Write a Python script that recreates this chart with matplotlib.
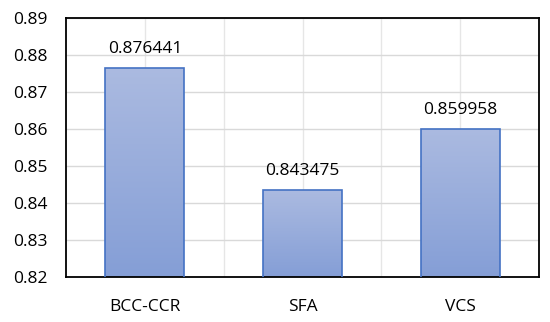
import numpy as np
import matplotlib.pyplot as plt
from matplotlib.colors import LinearSegmentedColormap

categories = ['BCC-CCR', 'SFA', 'VCS']
values = [0.876441, 0.843475, 0.859958]
yticks = [0.82, 0.83, 0.84, 0.85, 0.86, 0.87, 0.88, 0.89]

plt.rcParams['font.family'] = ['Open Sans', 'DejaVu Sans']

fig = plt.figure(figsize=(5.5, 3.22), dpi=100)
ax = fig.add_axes([66 / 550, 1 - 277 / 322, 473 / 550, 259 / 322])

x = np.arange(len(categories))
ax.set_xlim(-0.5, len(categories) - 0.5)
ax.set_ylim(yticks[0], yticks[-1])

cmap = LinearSegmentedColormap.from_list('g', [(0.52, 0.62, 0.84), (0.67, 0.73, 0.88)])
grad = np.linspace(0, 1, 256).reshape(-1, 1)

bars = ax.bar(x, values, width=0.5, facecolor='none', edgecolor='#4472C4',
              linewidth=1.2, zorder=3)
for b, v in zip(bars, values):
    x0 = b.get_x()
    im = ax.imshow(grad, cmap=cmap, aspect='auto', origin='lower',
                   extent=[x0, x0 + b.get_width(), yticks[0], v], zorder=2)
    im.set_clip_path(b)
    ax.annotate(f'{v:.6f}', (x0 + b.get_width() / 2, v), xytext=(0, 8),
                textcoords='offset points', ha='center', va='bottom', fontsize=12.5)

# vertical gridlines at category centres and boundaries
for gx in np.arange(0, len(categories) - 0.5, 0.5):
    ax.axvline(gx, color='#e6e6e6', linewidth=1, zorder=0)

ax.set_yticks(yticks)
ax.set_yticklabels([f'{t:.2f}' for t in yticks])
ax.set_xticks(x)
ax.set_xticklabels(categories)
ax.tick_params(axis='both', length=0, labelsize=12.5)
ax.tick_params(axis='y', pad=13)
ax.tick_params(axis='x', pad=16)
ax.grid(axis='y', color='#d9d9d9', linewidth=1, zorder=0)
ax.set_axisbelow(True)
for s in ax.spines.values():
    s.set_color('black')
    s.set_linewidth(1.3)

fig.savefig('out.png', dpi=100)
